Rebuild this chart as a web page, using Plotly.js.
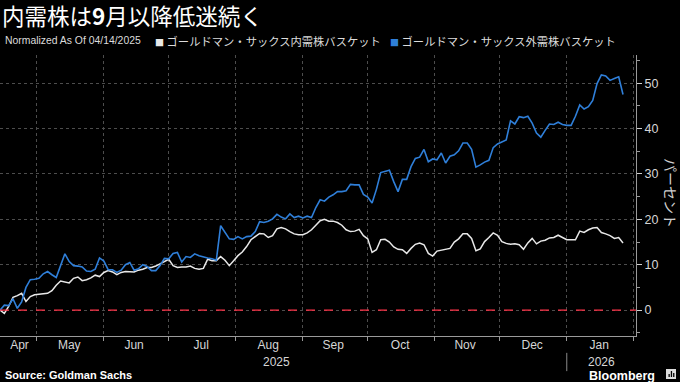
<!DOCTYPE html>
<html><head><meta charset="utf-8">
<script src="https://cdn.plot.ly/plotly-3.0.1.min.js"></script>
<style>html,body{margin:0;padding:0;background:#000;}#chart{width:680px;height:382px;}</style>
</head><body><div id="chart"></div>
<script>
const dates = [
'2025-04-14','2025-04-16','2025-04-18','2025-04-20','2025-04-22','2025-04-24','2025-04-26','2025-04-28','2025-04-30',
'2025-05-02','2025-05-04','2025-05-06','2025-05-08','2025-05-10','2025-05-12','2025-05-14','2025-05-16','2025-05-18','2025-05-20','2025-05-22','2025-05-24','2025-05-26','2025-05-28','2025-05-30',
'2025-06-01','2025-06-03','2025-06-05','2025-06-07','2025-06-09','2025-06-11','2025-06-13','2025-06-15','2025-06-17','2025-06-19','2025-06-21','2025-06-23','2025-06-25','2025-06-27','2025-06-29',
'2025-07-01','2025-07-03','2025-07-05','2025-07-07','2025-07-09','2025-07-11','2025-07-13','2025-07-15','2025-07-17','2025-07-19','2025-07-21','2025-07-23','2025-07-25','2025-07-27','2025-07-29','2025-07-31',
'2025-08-02','2025-08-04','2025-08-06','2025-08-08','2025-08-10','2025-08-12','2025-08-14','2025-08-16','2025-08-18','2025-08-20','2025-08-22','2025-08-24','2025-08-26','2025-08-28','2025-08-30',
'2025-09-01','2025-09-03','2025-09-05','2025-09-07','2025-09-09','2025-09-11','2025-09-13','2025-09-15','2025-09-17','2025-09-19','2025-09-21','2025-09-23','2025-09-25','2025-09-27','2025-09-29',
'2025-10-01','2025-10-03','2025-10-05','2025-10-07','2025-10-09','2025-10-11','2025-10-13','2025-10-15','2025-10-17','2025-10-19','2025-10-21','2025-10-23','2025-10-25','2025-10-27','2025-10-29','2025-10-31',
'2025-11-02','2025-11-04','2025-11-06','2025-11-08','2025-11-10','2025-11-12','2025-11-14','2025-11-16','2025-11-18','2025-11-20','2025-11-22','2025-11-24','2025-11-26','2025-11-28','2025-11-30',
'2025-12-02','2025-12-04','2025-12-06','2025-12-08','2025-12-10','2025-12-12','2025-12-14','2025-12-16','2025-12-18','2025-12-20','2025-12-22','2025-12-24','2025-12-26','2025-12-28','2025-12-30',
'2026-01-01','2026-01-03','2026-01-05','2026-01-07','2026-01-09','2026-01-11','2026-01-13','2026-01-15','2026-01-17','2026-01-19','2026-01-21','2026-01-23','2026-01-25','2026-01-27'
];

// ゴールドマン・サックス内需株バスケット (white)
const domestic = [
0, -0.7, 0.8, 2.8, 3.2, 3.7, 1.9, 3.0, 3.4,
3.5, 3.6, 3.7, 4.3, 5.5, 6.4, 6.2, 6.0, 7.0, 7.3, 6.5, 6.7, 7.1, 7.7, 7.4,
8.3, 8.7, 8.4, 7.8, 8.3, 8.5, 8.4, 8.4, 8.8, 9.0, 9.4, 9.4, 9.7, 10.2, 10.8,
11.2, 9.8, 9.4, 9.5, 9.5, 9.7, 9.2, 9.0, 9.2, 11.2, 10.9, 10.9, 11.8, 11.0, 9.8, 10.9,
12.0, 12.8, 14.0, 15.5, 16.3, 16.9, 16.8, 16.0, 16.4, 17.9, 18.2, 17.9, 17.3, 16.8, 16.6,
16.6, 17.0, 17.7, 18.7, 19.7, 20.0, 19.6, 19.6, 19.3, 18.7, 17.7, 17.3, 17.4, 17.8, 16.4,
15.7, 12.7, 13.3, 15.5, 15.6, 15.0, 13.9, 13.4, 13.3, 12.5, 13.6, 14.5, 14.8, 14.4, 12.5, 11.9,
13.0, 13.2, 13.5, 13.6, 15.0, 15.7, 16.8, 16.8, 15.8, 13.1, 13.5, 15.1, 16.0, 17.0, 16.5,
15.1, 14.7, 14.5, 14.6, 14.4, 13.4, 14.8, 15.8, 14.6, 15.2, 15.4, 15.9, 16.0, 16.5, 16.0,
15.5, 15.5, 15.5, 17.4, 17.1, 17.7, 18.1, 18.2, 17.1, 16.8, 16.4, 15.8, 16.0, 14.8
];

// ゴールドマン・サックス外需株バスケット (blue)
const external = [
0, 1.1, 1.0, 2.5, 0.4, 1.8, 5.0, 6.7, 6.8,
7.0, 8.0, 8.5, 7.8, 7.2, 9.8, 12.4, 10.7, 9.8, 9.7, 9.5, 8.6, 8.5, 9.0, 11.5,
10.8, 8.9, 8.9, 8.3, 8.8, 10.0, 10.5, 8.8, 9.1, 10.0, 9.6, 8.7, 8.7, 9.8, 11.4,
11.3, 12.5, 12.7, 10.6, 11.8, 11.6, 12.4, 12.0, 11.7, 11.5, 11.3, 11.0, 18.6, 17.0, 15.7, 15.6,
16.2, 15.7, 16.2, 16.3, 17.3, 19.5, 19.3, 19.6, 20.1, 21.1, 20.5, 20.1, 21.2, 20.4, 20.7,
20.3, 20.7, 20.4, 22.6, 24.3, 24.0, 24.9, 25.4, 26.1, 26.1, 26.3, 27.7, 27.6, 27.6, 25.5,
24.9, 23.6, 26.6, 30.3, 30.6, 30.8, 28.3, 26.1, 28.8, 28.8, 31.6, 33.4, 33.7, 35.4, 32.7, 33.3,
33.1, 34.6, 32.4, 33.9, 34.2, 35.1, 36.8, 36.8, 35.4, 31.5, 32.0, 32.6, 33.0, 35.8, 36.6,
37.0, 37.5, 41.7, 41.0, 42.6, 42.4, 42.7, 41.2, 39.0, 38.1, 39.6, 41.0, 40.9, 41.4, 40.9,
40.7, 40.7, 42.7, 45.2, 44.3, 44.8, 46.2, 49.9, 51.8, 51.6, 50.6, 51.0, 51.4, 47.5
];

const seriesNames = ['ゴールドマン・サックス内需株バスケット', 'ゴールドマン・サックス外需株バスケット'];
const monthLabels = ['Apr','May','Jun','Jul','Aug','Sep','Oct','Nov','Dec','Jan'];
const monthMid = ['2025-04-23','2025-05-16','2025-06-15','2025-07-16','2025-08-16','2025-09-15','2025-10-16','2025-11-15','2025-12-16','2026-01-16'];
const yearLabels = ['2025','2026'];
const yearPos = ['2025-08-20','2026-01-17'];
const yearBreak = '2026-01-01';
const title = '内需株は<b>9</b>月以降低迷続く';
const subtitle = 'Normalized As Of 04/14/2025';
const yTitle = 'パーセント';
const source = 'Source: Goldman Sachs';

const colors = ['#e8e8e8', '#2f7fd9'];
const latin = '"Liberation Sans", Arial, sans-serif';
const jp = '"Noto Sans CJK JP", "Noto Sans", sans-serif';

const traces = [
  {x: dates, y: domestic, type: 'scatter', mode: 'lines', name: seriesNames[0],
   line: {color: colors[0], width: 1.5}},
  {x: dates, y: external, type: 'scatter', mode: 'lines', name: seriesNames[1],
   line: {color: colors[1], width: 1.6}},
  {x: [monthMid[0]], y: [null], xaxis: 'x2', type: 'scatter', mode: 'lines',
   showlegend: false, hoverinfo: 'skip'}
];

const xRange = ['2025-04-14', '2026-02-02'];
const layout = {
  width: 680, height: 382,
  paper_bgcolor: '#000', plot_bgcolor: '#000',
  margin: {l: 0, r: 44, t: 55, b: 46},
  showlegend: false,
  title: {text: title, x: 0.003, xanchor: 'left', xref: 'container', y: 0.955, yanchor: 'middle',
          font: {family: jp, size: 22.5, color: '#ffffff'}},
  xaxis: {type: 'date', range: xRange, tick0: '2025-05-01', dtick: 'M1',
          showticklabels: false, showgrid: true, gridcolor: '#4d4d4d', griddash: 'dot', gridwidth: 1,
          ticks: 'outside', ticklen: 4, tickcolor: '#9a9a9a', showline: true, linecolor: '#9a9a9a', linewidth: 1,
          zeroline: false},
  xaxis2: {type: 'date', range: xRange, overlaying: 'x', anchor: 'y', side: 'bottom',
           tickmode: 'array', tickvals: monthMid, ticktext: monthLabels,
           showgrid: false, ticks: '', showline: false, zeroline: false,
           tickfont: {family: latin, size: 12, color: '#d6d6d6'}},
  yaxis: {side: 'right', range: [-5.7, 56.2], tick0: 0, dtick: 10,
          showgrid: true, gridcolor: '#4d4d4d', griddash: 'dot', zeroline: false,
          ticks: 'outside', ticklen: 5, tickcolor: '#cfcfcf', showline: true, linecolor: '#9a9a9a',
          tickfont: {family: latin, size: 12.5, color: '#d6d6d6'},
          minor: {dtick: 5, tick0: 0, ticks: 'outside', ticklen: 3, tickcolor: '#9a9a9a', showgrid: false}},
  shapes: [
    {type: 'line', xref: 'paper', x0: 0, x1: 1, yref: 'y', y0: 0, y1: 0, layer: 'between',
     line: {color: '#000', width: 2.5}},
    {type: 'line', xref: 'paper', x0: 0, x1: 1, yref: 'y', y0: 0, y1: 0, layer: 'above',
     line: {color: '#ff3348', width: 1.4, dash: 'dash'}},
    {type: 'line', xref: 'x', x0: yearBreak, x1: yearBreak, yref: 'paper', y0: -0.06, y1: -0.125,
     line: {color: '#8a8a8a', width: 1}},
    {type: 'rect', xref: 'paper', x0: 666/636, x1: 676/636, yref: 'paper', y0: (336-369)/281, y1: (336-379)/281,
     fillcolor: '#dcdcdc', line: {width: 0}},
    {type: 'rect', xref: 'paper', x0: 668.5/636, x1: 669.8/636, yref: 'paper', y0: (336-374)/281, y1: (336-377)/281,
     fillcolor: '#000', line: {width: 0}},
    {type: 'rect', xref: 'paper', x0: 670.8/636, x1: 672.1/636, yref: 'paper', y0: (336-371)/281, y1: (336-377)/281,
     fillcolor: '#000', line: {width: 0}},
    {type: 'rect', xref: 'paper', x0: 673.1/636, x1: 674.4/636, yref: 'paper', y0: (336-373)/281, y1: (336-377)/281,
     fillcolor: '#000', line: {width: 0}}
  ],
  annotations: [
    {xref: 'paper', yref: 'paper', x: 3/636, y: (336-41)/281, xanchor: 'left', yanchor: 'middle', showarrow: false,
     text: subtitle, font: {family: latin, size: 10.4, color: '#dcdcdc'}},
    {xref: 'paper', yref: 'paper', x: 153/636, y: (336-41)/281, xanchor: 'left', yanchor: 'middle', showarrow: false,
     text: '<span style="color:' + colors[0] + ';font-size:9px">■</span> ' + seriesNames[0],
     font: {family: jp, size: 11.3, color: '#dcdcdc'}},
    {xref: 'paper', yref: 'paper', x: 388/636, y: (336-41)/281, xanchor: 'left', yanchor: 'middle', showarrow: false,
     text: '<span style="color:' + colors[1] + ';font-size:9px">■</span> ' + seriesNames[1],
     font: {family: jp, size: 11.3, color: '#dcdcdc'}},
    {xref: 'paper', yref: 'paper', x: 671/636, y: (336-193)/281, xanchor: 'center', yanchor: 'middle', showarrow: false,
     textangle: 90, text: yTitle, font: {family: jp, size: 14, color: '#cfcfcf'}},
    {xref: 'x', yref: 'paper', x: yearPos[0], y: (336-362)/281, xanchor: 'center', yanchor: 'middle', showarrow: false,
     text: yearLabels[0], font: {family: latin, size: 12, color: '#d6d6d6'}},
    {xref: 'x', yref: 'paper', x: yearPos[1], y: (336-362)/281, xanchor: 'center', yanchor: 'middle', showarrow: false,
     text: yearLabels[1], font: {family: latin, size: 12, color: '#d6d6d6'}},
    {xref: 'paper', yref: 'paper', x: 3/636, y: (336-375)/281, xanchor: 'left', yanchor: 'middle', showarrow: false,
     text: '<b>' + source + '</b>', font: {family: latin, size: 11, color: '#ffffff'}},
    {xref: 'paper', yref: 'paper', x: 657/636, y: (336-375.5)/281, xanchor: 'right', yanchor: 'middle', showarrow: false,
     text: '<b>Bloomberg</b>', font: {family: latin, size: 12.5, color: '#ffffff'}}
  ]
};

Plotly.newPlot('chart', traces, layout, {displayModeBar: false, staticPlot: true});
</script>
</body></html>
